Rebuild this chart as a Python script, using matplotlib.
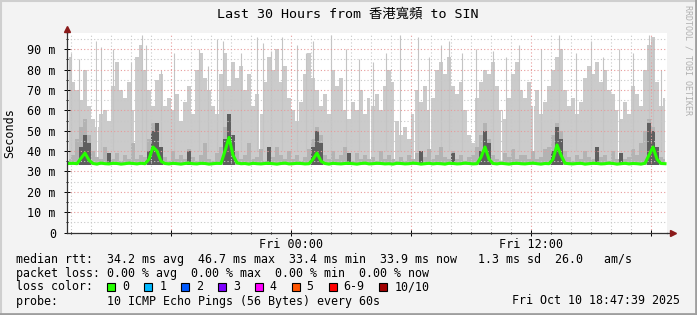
import numpy as np
import matplotlib.pyplot as plt
from matplotlib.ticker import MultipleLocator, FuncFormatter
from matplotlib.patches import Rectangle
from matplotlib.lines import Line2D

plt.rcParams['font.family'] = ['DejaVu Sans Mono', 'Noto Sans CJK TC']

# === dados (horas relativas a Fri 00:00, valores em ms) ===
t_end = 18 + 47 / 60 + 39 / 3600
t_start = t_end - 30
bin_h = 0.2

smoke_top = [86, 74, 70, 65, 80, 62, 56, 52, 58, 60, 55, 72, 84, 70, 66, 74, 60, 86, 92, 80,
             70, 62, 75, 78, 62, 66, 60, 68, 55, 64, 72, 58, 80, 88, 76, 70, 62, 58,
             78, 88, 72, 84, 76, 82, 70, 78, 62, 68, 58, 74, 86, 80, 90, 74, 82, 66, 60, 55,
             64, 78, 88, 76, 70, 62, 68, 58, 80, 72, 76, 60, 56, 64, 60, 70, 58, 66,
             62, 68, 60, 72, 80, 74, 55, 48, 52, 46, 58, 70, 64, 72, 60, 66, 80, 84, 78, 86,
             72, 68, 74, 60, 48, 44, 66, 74, 80, 78, 84, 72, 60, 56, 66, 78, 84, 70,
             66, 74, 62, 70, 58, 64, 72, 80, 86, 90, 70, 62, 66, 58, 64, 76, 82, 78, 84, 74,
             80, 70, 68, 60, 56, 64, 58, 72, 68, 62, 80, 92, 96, 74, 62, 66]

smoke_mid = [36, 38, 46, 52, 56, 48, 40, 37, 36, 42, 37, 36, 39, 35, 38, 36, 44, 36, 38, 37,
             46, 54, 50, 42, 37, 35, 40, 36, 38, 36, 41, 37, 35, 38, 44, 36, 35, 39,
             42, 52, 58, 48, 40, 36, 38, 44, 36, 37, 41, 35, 39, 37, 42, 38, 36, 40, 36, 38,
             35, 37, 41, 46, 52, 48, 38, 36, 40, 36, 38, 42, 37, 35, 39, 36, 38, 36,
             37, 35, 40, 36, 38, 36, 35, 37, 35, 38, 36, 39, 36, 37, 41, 36, 38, 42, 37, 36,
             40, 36, 38, 35, 37, 38, 42, 48, 54, 46, 38, 36, 35, 39, 37, 41, 36, 38,
             38, 36, 40, 36, 37, 41, 42, 48, 54, 50, 40, 37, 35, 38, 36, 40, 37, 36, 39, 37,
             38, 35, 40, 36, 38, 36, 37, 41, 38, 44, 50, 56, 52, 42, 37, 36]

# fumaca escura (so perto dos picos)
dark_bins = [3, 4, 5, 10, 20, 21, 22, 23, 30, 39, 40, 41, 50, 61, 62, 63, 70, 88, 96,
             103, 104, 105, 121, 122, 123, 132, 138, 145, 146, 147]
dark_ms = [42, 48, 44, 39, 40, 50, 54, 42, 40, 46, 58, 48, 42, 42, 50, 44, 39, 40, 39,
           40, 50, 44, 40, 52, 46, 42, 39, 54, 50, 42]

median = [33.9, 34.0, 33.8, 36.5, 39.0, 35.5, 33.9, 33.6, 34.1, 33.8,
          33.7, 34.0, 33.9, 33.6, 33.8, 34.1, 33.9, 33.7, 34.0, 33.8,
          36.0, 42.0, 40.0, 35.0, 33.9, 33.7, 34.0, 33.8, 33.6, 33.9,
          34.1, 33.8, 33.7, 34.0, 33.9, 33.6, 33.8, 34.0, 33.9, 40.0,
          46.7, 38.0, 34.2, 33.8, 33.9, 33.6, 34.0, 33.8, 33.7, 33.9,
          34.0, 33.8, 33.6, 33.9, 34.1, 33.7, 33.8, 34.0, 33.9, 33.7,
          33.8, 36.0, 39.0, 35.0, 33.9, 33.6, 34.0, 33.8, 33.7, 33.9,
          34.0, 33.8, 33.6, 33.9, 34.1, 33.7, 33.8, 34.0, 33.9, 33.7,
          33.8, 33.6, 34.0, 33.9, 33.7, 33.8, 34.1, 33.9, 33.6, 33.8,
          34.0, 33.7, 33.9, 33.8, 33.6, 34.0, 33.9, 33.7, 33.8, 34.1,
          33.9, 33.7, 33.8, 37.0, 42.0, 36.0, 33.9, 33.7, 34.0, 33.8,
          33.6, 33.9, 34.0, 33.8, 33.7, 33.9, 34.1, 33.8, 33.6, 33.9,
          33.8, 36.0, 43.0, 38.0, 34.0, 33.8, 33.7, 33.9, 34.0, 33.6,
          33.8, 34.0, 33.9, 33.7, 33.8, 34.1, 33.9, 33.6, 33.8, 34.0,
          33.7, 33.9, 33.8, 33.6, 34.0, 38.0, 42.0, 36.0, 33.9, 33.8]

# picos finos de fumaca
spike_h = [-11.0, -10.6, -9.75, -9.5, -8.9, -8.0, -7.45, -7.25, -6.5, -5.85, -4.6, -4.15,
           -3.7, -3.4, -2.5, -1.7, -1.4, -1.0, -0.45, 0.3, 0.75, 1.1, 2.0, 2.75, 3.4, 4.1,
           4.75, 5.45, 6.35, 6.9, 7.5, 7.9, 8.55, 9.25, 10.1, 10.75, 11.4, 12.5, 13.4,
           14.25, 15.0, 15.6, 16.4, 17.1, 17.9, 18.1, 18.5]
spike_ms = [88, 85, 94, 91, 90, 84, 97, 92, 80, 88, 90, 82, 95, 94, 88, 96, 93, 89, 96, 92,
            88, 94, 97, 90, 85, 84, 88, 97, 96, 86, 92, 94, 88, 90, 89, 86, 92, 90, 97, 88,
            94, 86, 90, 88, 97, 95, 80]

# colunas sem dados
gap_h = [-9.7, -7.85, -1.6, 3.95, 5.15, 6.15, 6.95, 10.5, 12.1, 16.35]

loss_labels = ['0', '1', '2', '3', '4', '5', '6-9', '10/10']
loss_colors = ['#26ff00', '#00b8ff', '#0059ff', '#7e00ff', '#ff00ff', '#ff5500', '#ff0000', '#a10000']

legend_lines = [
    "median rtt:  34.2 ms avg  46.7 ms max  33.4 ms min  33.9 ms now   1.3 ms sd  26.0   am/s",
    "packet loss: 0.00 % avg  0.00 % max  0.00 % min  0.00 % now",
]
probe_text = "probe:       10 ICMP Echo Pings (56 Bytes) every 60s"
stamp = "Fri Oct 10 18:47:39 2025"
title = "Last 30 Hours from 香港寬頻 to SIN"

# === grafico ===
W, H = 697, 315
fig = plt.figure(figsize=(W / 100, H / 100), dpi=100, facecolor='#f3f3f3')
ax = fig.add_axes([67 / W, 82.5 / H, 600 / W, 199.5 / H])
ax.set_facecolor('white')

n = len(smoke_top)
t = t_start + bin_h * (np.arange(n) + 0.5)
dark = np.full(n, 33.2)
dark[dark_bins] = dark_ms

ax.fill_between(t, 33.2, smoke_top, step='mid', color='#cbcbcb', lw=0, zorder=1)
ax.vlines(spike_h, 40, spike_ms, color='#c4c4c4', lw=0.8, zorder=1.1)
ax.vlines(gap_h, 35.5, 98, color='white', lw=0.8, zorder=1.2)
ax.fill_between(t, 33.2, smoke_mid, step='mid', color='#b3b3b3', lw=0, zorder=1.3)
ax.fill_between(t, 33.2, dark, step='mid', color='#5e5e5e', lw=0, zorder=1.4)
ax.plot(t, median, color='#26ff00', lw=2.2, zorder=3)

ax.set_xlim(t_start, t_end)
ax.set_ylim(0, 98)

ax.xaxis.set_major_locator(MultipleLocator(6))
ax.xaxis.set_minor_locator(MultipleLocator(1))
ax.yaxis.set_major_locator(MultipleLocator(10))
ax.yaxis.set_minor_locator(MultipleLocator(5))


def fmt_x(v, pos):
    if round(v) % 12 != 0:
        return ''
    dia = 'Fri' if v >= 0 else 'Thu'
    return f"{dia} {int(v % 24):02d}:00"


ax.xaxis.set_major_formatter(FuncFormatter(fmt_x))
ax.yaxis.set_major_formatter(FuncFormatter(lambda v, p: '0' if v == 0 else f"{v:.0f} m"))

ax.set_axisbelow(False)
ax.grid(which='major', color='#e79a9a', linestyle=(0, (1, 2)), lw=0.8)
ax.grid(which='minor', color='#c8c8c8', linestyle=(0, (1, 2)), lw=0.8)

for s in ['top', 'right']:
    ax.spines[s].set_visible(False)
for s in ['left', 'bottom']:
    ax.spines[s].set_color('#333333')
    ax.spines[s].set_linewidth(0.9)
    ax.spines[s].set_zorder(4)

ax.tick_params(which='major', direction='inout', length=4, width=0.7, labelsize=8.5, pad=2)
ax.tick_params(which='minor', direction='inout', length=2, width=0.7)
ax.tick_params(axis='y', pad=6)

# setas dos eixos
ax.plot([0, 0], [1, 1.02], color='#333333', lw=0.9, transform=ax.transAxes, clip_on=False)
ax.plot([1, 1.008], [0, 0], color='#333333', lw=0.9, transform=ax.transAxes, clip_on=False)
ax.plot([0], [1.02], marker='^', ms=4.5, color='#8b1a1a', transform=ax.transAxes, clip_on=False)
ax.plot([1.01], [0], marker='>', ms=4.5, color='#8b1a1a', transform=ax.transAxes, clip_on=False)

# textos
fig.text(348 / W, 1 - 14.5 / H, title, ha='center', va='center', fontsize=9.6)
fig.text(10 / W, 1 - 133 / H, "Seconds", rotation=90, ha='center', va='center', fontsize=8.5)
fig.text(688 / W, 1 - 60 / H, "RRDTOOL / TOBI OETIKER", rotation=270, ha='center', va='center',
         fontsize=6, color='#b0b0b0')

fs = 8.4
cw = 0.602 * fs * 100 / 72
y_lines = [259, 273, 287, 301]
for yy, txt in zip(y_lines[:2], legend_lines):
    fig.text(16 / W, 1 - yy / H, txt, ha='left', va='center', fontsize=fs)
fig.text(16 / W, 1 - y_lines[2] / H, "loss color:", ha='left', va='center', fontsize=fs)
c = 13.0
for lab, col in zip(loss_labels, loss_colors):
    bx = 16 + c * cw
    fig.add_artist(Rectangle((bx / W, 1 - (y_lines[2] + 4) / H), 8 / W, 8 / H,
                             facecolor=col, edgecolor='black', lw=0.8, transform=fig.transFigure))
    fig.text((bx + 15) / W, 1 - y_lines[2] / H, lab, ha='left', va='center', fontsize=fs)
    c += 4.25 + len(lab)
fig.text(16 / W, 1 - y_lines[3] / H, probe_text, ha='left', va='center', fontsize=fs)
fig.text(680 / W, 1 - y_lines[3] / H, stamp, ha='right', va='center', fontsize=fs)

# moldura
fig.add_artist(Line2D([0, 1], [1 - 0.5 / H, 1 - 0.5 / H], color='#cfcfcf', lw=1.5, transform=fig.transFigure))
fig.add_artist(Line2D([0.5 / W, 0.5 / W], [0, 1], color='#cfcfcf', lw=1.5, transform=fig.transFigure))
fig.add_artist(Line2D([0, 1], [0.8 / H, 0.8 / H], color='#9e9e9e', lw=2, transform=fig.transFigure))
fig.add_artist(Line2D([1 - 0.8 / W, 1 - 0.8 / W], [0, 1], color='#9e9e9e', lw=2, transform=fig.transFigure))

fig.savefig("out.png", dpi=100, facecolor=fig.get_facecolor())
